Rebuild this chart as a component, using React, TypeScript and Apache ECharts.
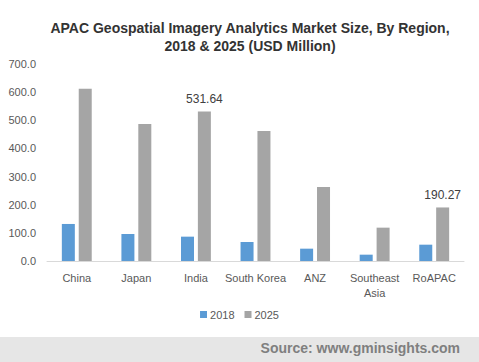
import React, { useEffect, useRef } from "react";
import * as echarts from "echarts";

const categories = ["China", "Japan", "India", "South Korea", "ANZ", "Southeast\nAsia", "RoAPAC"];
const values2018 = [131.6, 96.0, 86.5, 67.6, 43.8, 22.5, 58.0];
const values2025 = [611.7, 487.0, 531.64, 462.0, 263.0, 118.5, 190.27];
const labelled2025 = [false, false, true, false, false, false, true];
const yTicks = { min: 0, max: 700, interval: 100 };

export default function App() {
  const ref = useRef<HTMLDivElement>(null);
  useEffect(() => {
    if (!ref.current) return;
    const chart = echarts.init(ref.current, null, { renderer: "svg" });
    const font = "'Liberation Sans', Arial, sans-serif";
    chart.setOption({
      animation: false,
      backgroundColor: "#ffffff",
      textStyle: { fontFamily: font },
      title: {
        text: "APAC Geospatial Imagery Analytics Market Size, By Region,\n2018 & 2025 (USD Million)",
        left: 245,
        textAlign: "center",
        top: 14,
        textStyle: { fontFamily: font, fontSize: 14, fontWeight: "bold", color: "#333333", lineHeight: 18 },
      },
      legend: {
        data: ["2018", "2025"],
        bottom: 37,
        left: "center",
        itemWidth: 7,
        itemHeight: 7,
        itemGap: 10,
        icon: "rect",
        textStyle: { fontFamily: font, fontSize: 11, color: "#595959", padding: [0, 0, 0, -2] },
      },
      grid: { left: 47, right: 15, top: 64, bottom: 101, containLabel: false },
      xAxis: {
        type: "category",
        data: categories,
        axisLine: { lineStyle: { color: "#d9d9d9" } },
        axisTick: { show: false },
        axisLabel: { color: "#595959", fontSize: 11, fontFamily: font, margin: 9, lineHeight: 15, interval: 0 },
      },
      yAxis: {
        type: "value",
        min: yTicks.min,
        max: yTicks.max,
        interval: yTicks.interval,
        splitLine: { show: false },
        axisLine: { show: false },
        axisTick: { show: false },
        axisLabel: {
          color: "#595959",
          fontSize: 11,
          fontFamily: font,
          margin: 11,
          formatter: (v: number) => v.toFixed(1),
        },
      },
      series: [
        {
          name: "2018",
          type: "bar",
          data: values2018,
          barWidth: 13,
          barGap: "30%",
          itemStyle: { color: "#5b9bd5" },
        },
        {
          name: "2025",
          type: "bar",
          data: values2025.map((v, i) => ({
            value: v,
            label: {
              show: labelled2025[i],
              position: "top",
              distance: 6,
              color: "#404040",
              fontSize: 12,
              fontFamily: font,
              formatter: () => v.toFixed(2),
            },
          })),
          barWidth: 13,
          itemStyle: { color: "#a5a5a5" },
        },
      ],
      graphic: [
        {
          type: "rect",
          left: 0,
          top: 337,
          shape: { width: 479, height: 25 },
          style: { fill: "#e6e6e6" },
          z: 0,
        },
        {
          type: "text",
          right: 19,
          top: 341,
          style: {
            text: "Source: www.gminsights.com",
            fill: "#7f7f7f",
            font: "bold 14px 'Liberation Sans', Arial, sans-serif",
          },
          z: 1,
        },
      ],
    });
    return () => chart.dispose();
  }, []);
  return <div ref={ref} style={{ width: 479, height: 362, position: "absolute", left: 0, top: 0 }} />;
}
